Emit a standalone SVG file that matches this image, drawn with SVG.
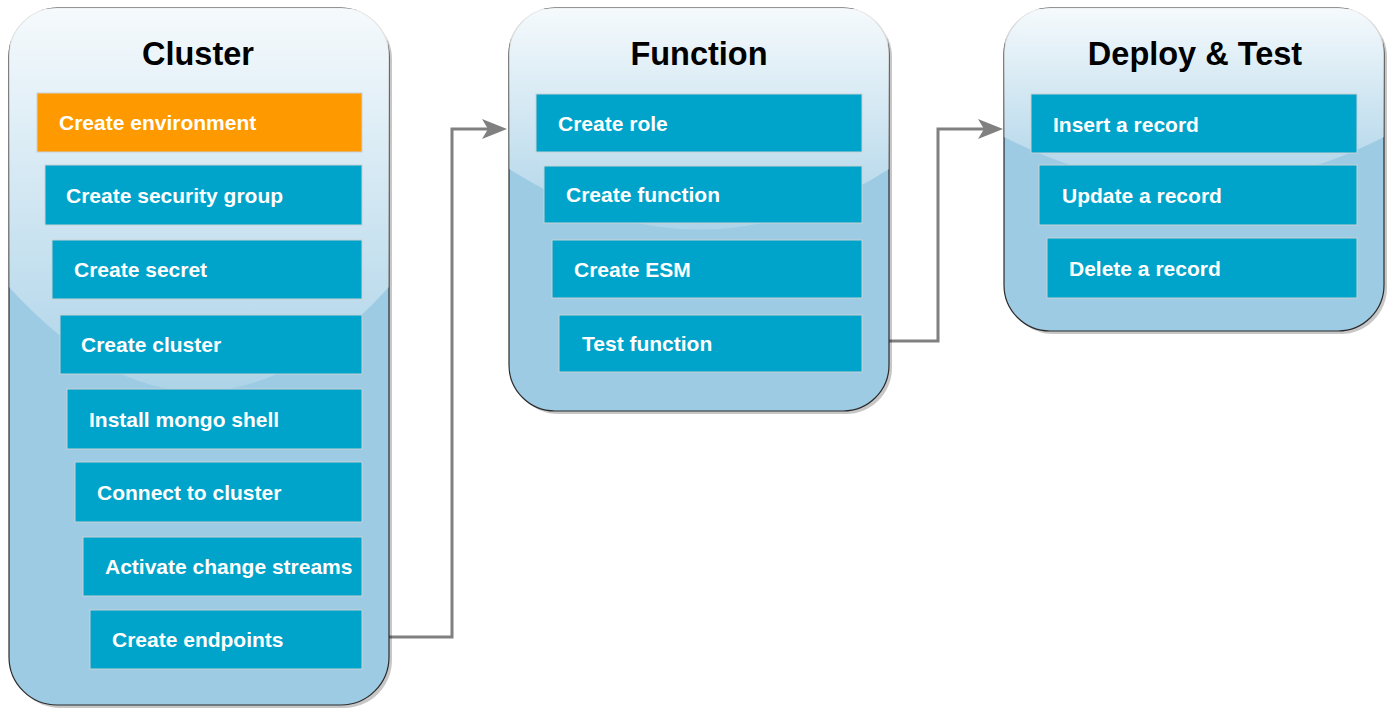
<svg xmlns="http://www.w3.org/2000/svg" width="1390" height="708" viewBox="0 0 1390 708">
<style>
.cont{fill:#9DCBE4;stroke:#2b2b2b;stroke-width:1.2}
.shadow{fill:#000;opacity:0.22}
.glass{fill:url(#glassGrad)}
.title{font-family:"Liberation Sans",Arial,sans-serif;font-weight:bold;font-size:32.5px;fill:#000;text-anchor:middle}
.box{fill:#00A3C9;stroke:#C9D2D6;stroke-width:1}
.box.orange{fill:#FF9900}
.lbl{font-family:"Liberation Sans",Arial,sans-serif;font-weight:bold;font-size:21px;fill:#fff}
.conn{fill:none;stroke:#808080;stroke-width:3}
</style>
<defs>
<linearGradient id="glassGrad" x1="0" y1="0" x2="0" y2="1.09">
<stop offset="0" stop-color="#fff" stop-opacity="0.9"/>
<stop offset="1" stop-color="#fff" stop-opacity="0.1"/>
</linearGradient>
<marker id="arr" markerUnits="userSpaceOnUse" markerWidth="26" markerHeight="22" refX="6" refY="10" orient="auto" viewBox="0 0 26 22">
<path d="M0,0 L25,10 L0,20 L6,10 Z" fill="#808080"/>
</marker>
</defs>
<rect width="1390" height="708" fill="#fff"/>

<g id="connectors">
<path class="conn" d="M389,637 H452 V129 H488" marker-end="url(#arr)"/>
<path class="conn" d="M889,341 H938 V129 H984" marker-end="url(#arr)"/>
</g>

<g id="cluster">
<rect class="shadow" x="12" y="11" width="380" height="697" rx="48"/>
<rect class="cont" x="9" y="8" width="380" height="697" rx="48"/>
<path class="glass" d="M57,8 Q9,8 9,56 L9,287 Q199,496 389,287 L389,56 Q389,8 341,8 Z"/>
<text class="title" x="198" y="65">Cluster</text>
<g id="create-environment"><rect class="box orange" x="37" y="93" width="325" height="59"/><text class="lbl" x="59" y="130">Create environment</text></g>
<g id="create-security-group"><rect class="box" x="45" y="165" width="317" height="60"/><text class="lbl" x="66" y="203">Create security group</text></g>
<g id="create-secret"><rect class="box" x="52" y="240" width="310" height="59"/><text class="lbl" x="74" y="277">Create secret</text></g>
<g id="create-cluster"><rect class="box" x="60" y="315" width="302" height="59"/><text class="lbl" x="81" y="352">Create cluster</text></g>
<g id="install-mongo-shell"><rect class="box" x="67" y="389" width="295" height="60"/><text class="lbl" x="89" y="427">Install mongo shell</text></g>
<g id="connect-to-cluster"><rect class="box" x="75" y="462" width="287" height="60"/><text class="lbl" x="97" y="500">Connect to cluster</text></g>
<g id="activate-change-streams"><rect class="box" x="83" y="537" width="279" height="59"/><text class="lbl" x="105" y="574">Activate change streams</text></g>
<g id="create-endpoints"><rect class="box" x="90" y="610" width="272" height="59"/><text class="lbl" x="112" y="647">Create endpoints</text></g>
</g>

<g id="function">
<rect class="shadow" x="512" y="11" width="380" height="403" rx="46"/>
<rect class="cont" x="509" y="8" width="380" height="403" rx="46"/>
<path class="glass" d="M555,8 Q509,8 509,54 L509,169 Q699,290 889,169 L889,54 Q889,8 843,8 Z"/>
<text class="title" x="699" y="65">Function</text>
<g id="create-role"><rect class="box" x="536" y="94" width="326" height="58"/><text class="lbl" x="558" y="131">Create role</text></g>
<g id="create-function"><rect class="box" x="544" y="166" width="318" height="57"/><text class="lbl" x="566" y="202">Create function</text></g>
<g id="create-esm"><rect class="box" x="552" y="240" width="310" height="58"/><text class="lbl" x="574" y="277">Create ESM</text></g>
<g id="test-function"><rect class="box" x="559" y="315" width="303" height="57"/><text class="lbl" x="582" y="351">Test function</text></g>
</g>

<g id="deploy-test">
<rect class="shadow" x="1007" y="11" width="380" height="323" rx="46"/>
<rect class="cont" x="1004" y="8" width="380" height="323" rx="46"/>
<path class="glass" d="M1050,8 Q1004,8 1004,54 L1004,137 Q1194,234 1384,137 L1384,54 Q1384,8 1338,8 Z"/>
<text class="title" x="1195" y="65">Deploy &amp; Test</text>
<g id="insert-a-record"><rect class="box" x="1031" y="94" width="326" height="59"/><text class="lbl" x="1053" y="132">Insert a record</text></g>
<g id="update-a-record"><rect class="box" x="1039" y="165" width="318" height="60"/><text class="lbl" x="1062" y="203">Update a record</text></g>
<g id="delete-a-record"><rect class="box" x="1047" y="238" width="310" height="60"/><text class="lbl" x="1069" y="276">Delete a record</text></g>
</g>
</svg>
